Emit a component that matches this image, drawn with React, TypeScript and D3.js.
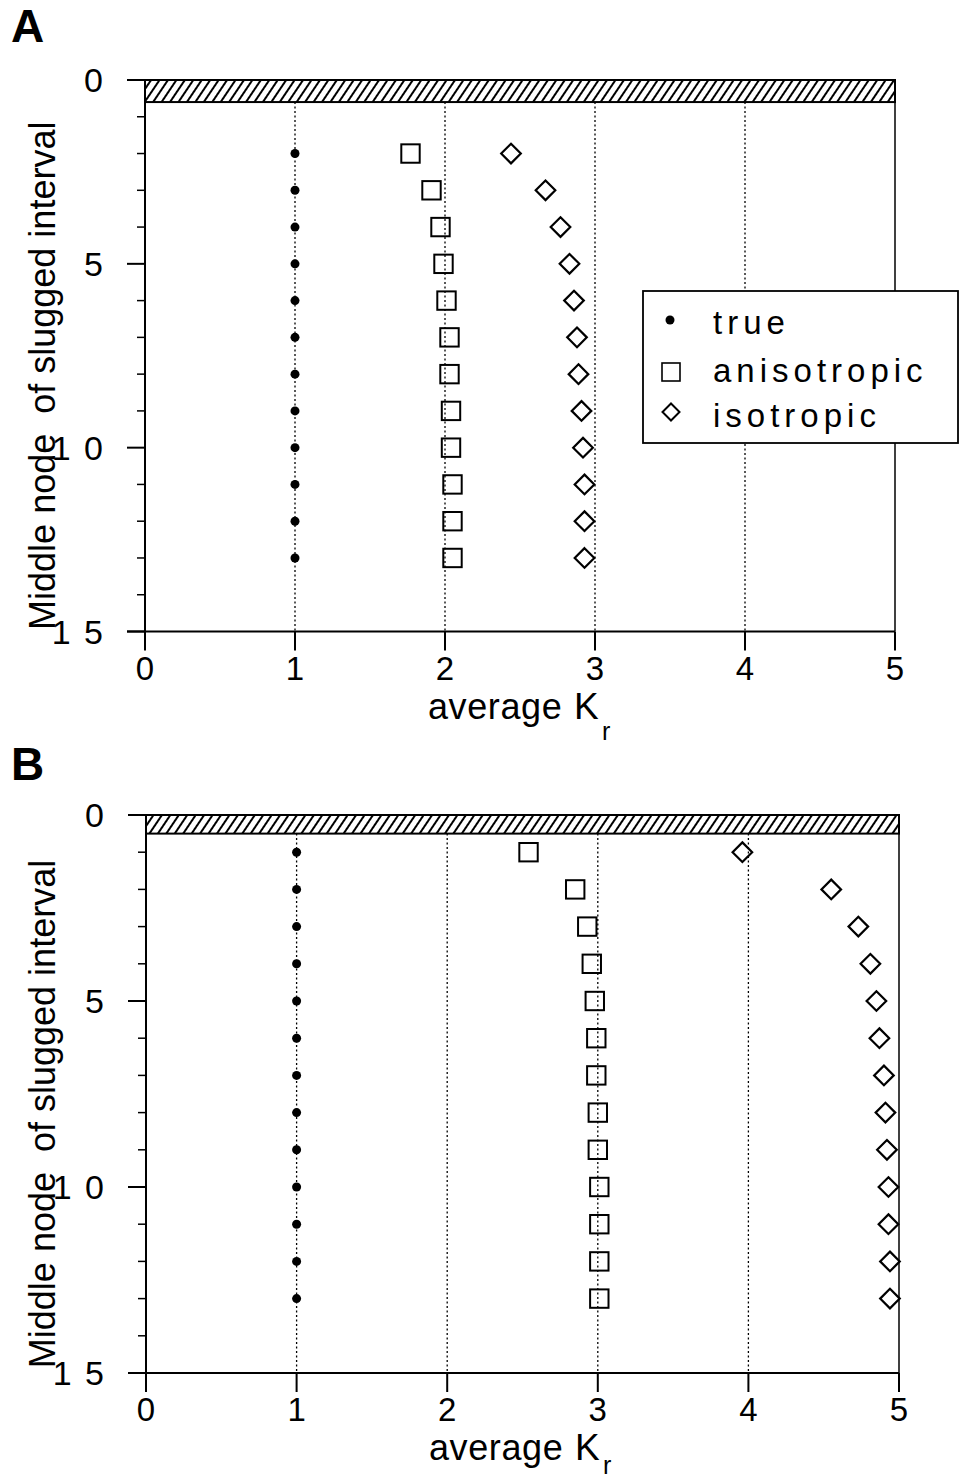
import React from "react";
import * as d3 from "d3";

const xTicks = [0, 1, 2, 3, 4, 5];
const yMajorTicks = [0, 5, 10, 15];
const yTickLabels = ["0", "5", "1 0", "1 5"];
const gridXs = [1, 2, 3, 4];
const legendLabels = ["true", "anisotropic", "isotropic"];

const nodesA = [2, 3, 4, 5, 6, 7, 8, 9, 10, 11, 12, 13];
const trueA = [1, 1, 1, 1, 1, 1, 1, 1, 1, 1, 1, 1];
const anisoA = [1.77, 1.91, 1.97, 1.99, 2.01, 2.03, 2.03, 2.04, 2.04, 2.05, 2.05, 2.05];
const isoA = [2.44, 2.67, 2.77, 2.83, 2.86, 2.88, 2.89, 2.91, 2.92, 2.93, 2.93, 2.93];

const nodesB = [1, 2, 3, 4, 5, 6, 7, 8, 9, 10, 11, 12, 13];
const trueB = [1, 1, 1, 1, 1, 1, 1, 1, 1, 1, 1, 1, 1];
const anisoB = [2.54, 2.85, 2.93, 2.96, 2.98, 2.99, 2.99, 3.0, 3.0, 3.01, 3.01, 3.01, 3.01];
const isoB = [3.96, 4.55, 4.73, 4.81, 4.85, 4.87, 4.9, 4.91, 4.92, 4.93, 4.93, 4.94, 4.94];

const FONT = "'Liberation Sans', Arial, Helvetica, sans-serif";

type PanelProps = {
  id: string;
  letter: string;
  letterY: number;
  left: number;
  right: number;
  top: number;
  bottom: number;
  band: number;
  subY: number;
  nodes: number[];
  trueV: number[];
  aniso: number[];
  iso: number[];
  legend?: boolean;
};

function Panel(p: PanelProps) {
  const x = d3.scaleLinear().domain([0, 5]).range([p.left, p.right]);
  const y = d3.scaleLinear().domain([0, 15]).range([p.top, p.bottom]);
  const minor = d3.range(0, 16).filter((v) => v % 5 !== 0);
  const sq = 9.2;
  const dm = 9.8;
  const diamond = (cx: number, cy: number, r: number) =>
    `M${cx},${cy - r}L${cx + r},${cy}L${cx},${cy + r}L${cx - r},${cy}Z`;
  const midY = (p.top + p.bottom) / 2;
  return (
    <g>
      <defs>
        <pattern
          id={"hatch" + p.id}
          width={7}
          height={10}
          patternUnits="userSpaceOnUse"
          patternTransform="rotate(34)"
        >
          <line x1={2} y1={0} x2={2} y2={10} stroke="#000" strokeWidth={2} />
        </pattern>
      </defs>
      <text x={11} y={p.letterY} fontFamily={FONT} fontWeight="bold" fontSize={46}>
        {p.letter}
      </text>
      {gridXs.map((g) => (
        <line
          key={"g" + g}
          x1={x(g)}
          x2={x(g)}
          y1={y(p.band)}
          y2={y(15)}
          stroke="#000"
          strokeWidth={1.3}
          strokeDasharray="2,2.5"
        />
      ))}
      <rect
        x={x(0)}
        y={y(0)}
        width={x(5) - x(0)}
        height={y(p.band) - y(0)}
        fill={`url(#hatch${p.id})`}
        stroke="#000"
        strokeWidth={2}
      />
      <line x1={x(5)} x2={x(5)} y1={y(0)} y2={y(15)} stroke="#000" strokeWidth={1.5} />
      <line x1={x(0)} x2={x(0)} y1={y(0)} y2={y(15)} stroke="#000" strokeWidth={2} />
      {yMajorTicks.map((t, i) => (
        <g key={"ym" + t}>
          <line x1={x(0) - 18} x2={x(0)} y1={y(t)} y2={y(t)} stroke="#000" strokeWidth={2} />
          <text
            x={x(0) - 40}
            y={y(t)}
            dy="0.36em"
            textAnchor="end"
            fontFamily={FONT}
            fontSize={34}
            letterSpacing={2}
          >
            {yTickLabels[i]}
          </text>
        </g>
      ))}
      {minor.map((t) => (
        <line key={"yn" + t} x1={x(0) - 8} x2={x(0)} y1={y(t)} y2={y(t)} stroke="#000" strokeWidth={1.5} />
      ))}
      <line x1={x(0) - 18} x2={x(5)} y1={y(15)} y2={y(15)} stroke="#000" strokeWidth={2} />
      {xTicks.map((t) => (
        <g key={"xt" + t}>
          <line x1={x(t)} x2={x(t)} y1={y(15)} y2={y(15) + 19} stroke="#000" strokeWidth={2} />
          <text
            x={x(t)}
            y={y(15) + 48}
            textAnchor="middle"
            fontFamily={FONT}
            fontSize={33}
          >
            {t}
          </text>
        </g>
      ))}
      <text x={x(0) + 283} y={y(15) + 87} fontFamily={FONT} fontSize={36} letterSpacing={0.6}>
        average
      </text>
      <text x={x(0) + 429} y={y(15) + 87} fontFamily={FONT} fontSize={37}>
        K
      </text>
      <text x={x(0) + 457} y={y(15) + p.subY} fontFamily={FONT} fontSize={25}>
        r
      </text>
      <text
        transform={`translate(55,${midY + 20}) rotate(-90)`}
        textAnchor="middle"
        fontFamily={FONT}
        fontSize={36}
        style={{ whiteSpace: "pre" }}
      >
        {"Middle node  of slugged interval"}
      </text>
      {p.nodes.map((n, i) => (
        <circle key={"t" + n} cx={x(p.trueV[i])} cy={y(n)} r={4.5} fill="#000" />
      ))}
      {p.nodes.map((n, i) => (
        <rect
          key={"a" + n}
          x={x(p.aniso[i]) - sq}
          y={y(n) - sq}
          width={sq * 2}
          height={sq * 2}
          fill="none"
          stroke="#000"
          strokeWidth={2}
        />
      ))}
      {p.nodes.map((n, i) => (
        <path key={"i" + n} d={diamond(x(p.iso[i]), y(n), dm)} fill="none" stroke="#000" strokeWidth={2.2} />
      ))}
      {p.legend && (
        <g>
          <rect x={643} y={291} width={315} height={152} fill="#fff" stroke="#000" strokeWidth={1.8} />
          <circle cx={670} cy={320} r={4.5} fill="#000" />
          <rect x={662} y={363} width={18} height={18} fill="none" stroke="#000" strokeWidth={1.6} />
          <path d={diamond(671, 412, 8.5)} fill="none" stroke="#000" strokeWidth={2} />
          {legendLabels.map((l, i) => (
            <text
              key={l}
              x={713}
              y={[334, 382, 427][i]}
              fontFamily={FONT}
              fontSize={33}
              letterSpacing={5}
            >
              {l}
            </text>
          ))}
        </g>
      )}
    </g>
  );
}

export default function App() {
  return (
    <svg
      width={964}
      height={1479}
      style={{ position: "absolute", left: 0, top: 0, display: "block", background: "#fff" }}
    >
      <rect width={964} height={1479} fill="#fff" />
      <Panel
        id="A"
        letter="A"
        letterY={42}
        left={145}
        right={895}
        top={80}
        bottom={631.5}
        band={0.6}
        subY={108}
        nodes={nodesA}
        trueV={trueA}
        aniso={anisoA}
        iso={isoA}
        legend
      />
      <Panel
        id="B"
        letter="B"
        letterY={780}
        left={146}
        right={899}
        top={815}
        bottom={1373}
        band={0.5}
        subY={101}
        nodes={nodesB}
        trueV={trueB}
        aniso={anisoB}
        iso={isoB}
      />
    </svg>
  );
}
